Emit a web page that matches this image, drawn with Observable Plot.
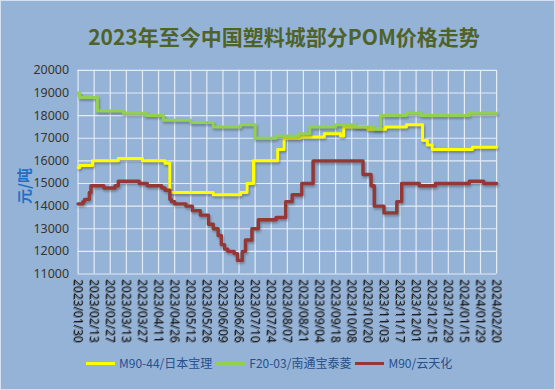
<!DOCTYPE html>
<html>
<head>
<meta charset="utf-8">
<script src="https://cdn.jsdelivr.net/npm/d3@7"></script>
<script src="https://cdn.jsdelivr.net/npm/@observablehq/plot@0.6"></script>
<style>
  html, body { margin: 0; padding: 0; }
  #chart {
    position: relative; width: 555px; height: 390px; box-sizing: border-box;
    background: #95b3d7; border: 1px solid #d6e1ef; overflow: hidden;
    font-family: "Noto Sans", "Noto Sans CJK SC", sans-serif;
  }
  #title {
    position: absolute; top: 20px; left: 0; width: 566px; text-align: center;
    font-family: "Noto Sans CJK SC", "Noto Sans", sans-serif; font-weight: bold;
    font-size: 21px; color: #4f6228; line-height: 30px; white-space: nowrap;
  }
  #ylab {
    position: absolute; left: 22px; top: 185px; transform: translate(-50%, -50%) rotate(-90deg);
    font-family: "Noto Sans CJK SC", sans-serif; font-weight: bold; font-size: 15px; color: #1f6fc4;
    white-space: nowrap;
  }
  #plot { position: absolute; left: -1px; top: -1px; }
  #legend {
    position: absolute; top: 353px; left: 85px; display: flex; align-items: center;
    font-family: "Noto Sans CJK SC", "Noto Sans", sans-serif; font-size: 12px; color: #264f8c;
    white-space: nowrap; line-height: 18px;
  }
  .sw { display: inline-block; width: 29px; height: 3px; margin-right: 4px; }
  .item { display: flex; align-items: center; margin-right: 4px; }
  .lines path { filter: drop-shadow(1px 2px 1px rgba(40,40,40,0.35)); }
  .xax text { filter: drop-shadow(1px 1px 0.6px rgba(40,40,40,0.45)); }
</style>
</head>
<body>
<div id="chart">
  <div id="title">2023年至今中国塑料城部分POM价格走势</div>
  <div id="ylab">元/吨</div>
  <div id="plot"></div>
  <div id="legend"></div>
</div>
<script>
const xLabels = ["2023/01/30","2023/02/13","2023/02/27","2023/03/13","2023/03/27","2023/04/11","2023/04/26","2023/05/12","2023/05/26","2023/06/09","2023/06/26","2023/07/10","2023/07/24","2023/08/07","2023/08/21","2023/09/04","2023/09/18","2023/10/08","2023/10/20","2023/11/03","2023/11/17","2023/12/01","2023/12/15","2023/12/29","2024/01/15","2024/01/29","2024/02/20"];
const yTicks = [11000,12000,13000,14000,15000,16000,17000,18000,19000,20000];

const seriesNames = ["M90-44/日本宝理", "F20-03/南通宝泰菱", "M90/云天化"];
const seriesColors = ["#ffff00", "#92d050", "#953735"];

// trading-day index (10 per label interval) where each price level starts
const yellowDay = [0,1,9,25,40,54,57,84,101,105,109,124,128,138,153,163,165,180,191,204,214,217,220,245,260];
const yellowVal = [15700,15800,16000,16100,16000,15900,14600,14500,14600,15000,16000,16500,17000,17050,17200,17100,17500,17400,17500,17600,16900,16700,16500,16600,16600];

const greenDay = [0,1,12,28,42,53,70,84,101,110,123,137,144,160,172,184,188,204,213,243,260];
const greenVal = [19000,18800,18200,18100,18000,17800,17700,17500,17600,17000,17100,17200,17500,17600,17500,17400,18000,18100,18000,18100,18100];

const redDay = [0,3,4,7,8,16,23,25,38,43,52,54,57,58,60,67,71,76,81,84,87,89,91,93,97,99,102,104,108,112,123,129,133,139,146,177,182,184,190,198,201,212,222,243,252,260];
const redVal = [14100,14200,14300,14600,14900,14800,14900,15100,15000,14900,14800,14700,14300,14200,14100,14000,13800,13600,13200,13000,12700,12300,12100,12000,11900,11600,12000,12500,13000,13400,13500,14200,14500,15000,16000,15400,14900,14000,13700,14200,15000,14900,15000,15100,15000,15000];

const toRows = (days, vals) => days.map((d, i) => ({d, v: vals[i]}));
const series = [toRows(yellowDay, yellowVal), toRows(greenDay, greenVal), toRows(redDay, redVal)];
const xTickPos = xLabels.map((_, i) => i * 10);

const chart = Plot.plot({
  width: 555,
  height: 348,
  marginTop: 70,
  marginLeft: 77.7,
  marginRight: 58,
  marginBottom: 74,
  style: {background: "transparent", fontFamily: "Noto Sans, sans-serif", fontSize: "12px", color: "#2b2b2b", overflow: "visible"},
  x: {domain: [0, 260]},
  y: {domain: [11000, 20000]},
  marks: [
    Plot.gridX(xTickPos, {stroke: "#e4ecf6", strokeOpacity: 1, strokeWidth: 1.2}),
    Plot.gridY(yTicks, {stroke: "#e4ecf6", strokeOpacity: 1, strokeWidth: 1.2}),
    Plot.axisY(yTicks, {tickSize: 0, tickPadding: 9, tickFormat: d => String(d), label: null, fill: "#3a3428", fontSize: 12.5}),
    Plot.axisX(xTickPos, {className: "xax", tickSize: 0, tickPadding: 5, tickRotate: 90, tickFormat: d => xLabels[d / 10], label: null, fill: "#1e1e1e", fontSize: 12}),
    ...series.map((rows, k) => Plot.line(rows, {x: "d", y: "v", stroke: seriesColors[k], strokeWidth: k === 2 ? 3.4 : 3, curve: "step-after", className: "lines"}))
  ]
});
document.getElementById("plot").appendChild(chart);

const legend = document.getElementById("legend");
seriesNames.forEach((name, k) => {
  const item = document.createElement("span");
  item.className = "item";
  const sw = document.createElement("span");
  sw.className = "sw";
  sw.style.background = seriesColors[k];
  item.appendChild(sw);
  item.appendChild(document.createTextNode(name));
  legend.appendChild(item);
});
</script>
</body>
</html>
